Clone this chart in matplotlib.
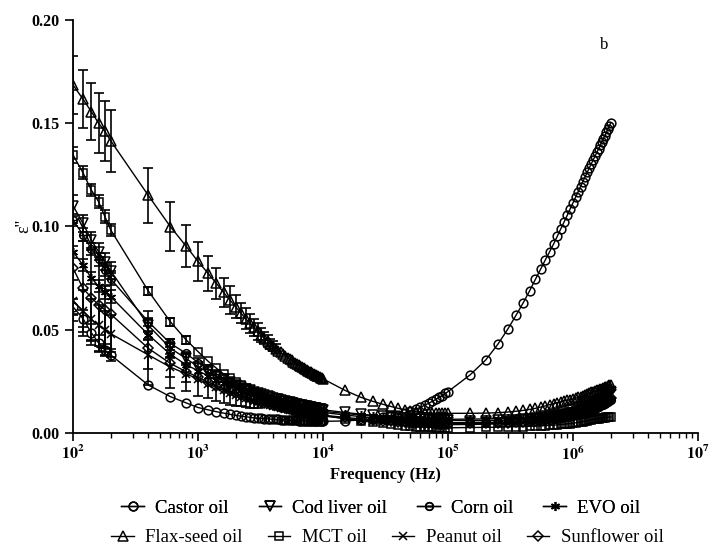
import math
import matplotlib
matplotlib.use("Agg")
import matplotlib.pyplot as plt
from matplotlib.path import Path
from matplotlib.ticker import FuncFormatter, LogLocator, NullFormatter, MultipleLocator

plt.rcParams['font.family'] = ['Liberation Serif', 'DejaVu Serif']
plt.rcParams['mathtext.fontset'] = 'stix'

# frequency sweep (Hz)
freq = [100, 120, 140, 160, 180, 200,
        400, 600, 800,
        1000, 1200, 1400, 1600, 1800, 2000, 2200, 2400, 2600, 2800, 3000, 3200, 3400, 3600, 3800, 4000,
        4200, 4400, 4600, 4800, 5000, 5200, 5400, 5600, 5800, 6000, 6200, 6400, 6600, 6800, 7000, 7200,
        7400, 7600, 7800, 8000, 8200, 8400, 8600, 8800, 9000, 9200, 9400, 9600, 9800, 10000,
        15000, 20000, 25000, 30000, 35000, 40000, 45000, 50000, 55000, 60000, 65000, 70000, 75000,
        80000, 85000, 90000, 95000, 100000,
        150000, 200000, 250000, 300000, 350000, 400000, 450000, 500000, 550000, 600000, 650000,
        700000, 750000, 800000, 850000, 900000, 950000, 1000000, 1050000, 1100000, 1150000, 1200000,
        1250000, 1300000, 1350000, 1400000, 1450000, 1500000, 1550000, 1600000, 1650000, 1700000,
        1750000, 1800000, 1850000, 1900000, 1950000, 2000000]

castor = [.0610, .0553, .0485, .0435, .0400, .0377,
          .0231, .0175, .0145,
          .0122, .0111, .0102, .0095, .0089, .0084, .0080, .0077, .0075, .0072, .0070, .0069, .0068, .0067,
          .0066, .0065, .0064, .0064, .0063, .0063, .0062, .0062, .0061, .0061, .0060, .0060, .0060, .0059,
          .0059, .0059, .0058, .0058, .0058, .0057, .0057, .0057, .0057, .0056, .0056, .0056, .0056, .0056,
          .0055, .0055, .0055, .0055,
          .0057, .0062, .0068, .0075, .0081, .0088, .0095, .0104, .0113, .0123, .0133, .0143, .0152, .0162,
          .0171, .0180, .0190, .0199,
          .0280, .0352, .0428, .0501, .0569, .0630, .0688, .0743, .0792, .0837, .0877, .0915, .0953, .0989,
          .1022, .1054, .1085, .1114, .1142, .1168, .1193, .1217, .1240, .1262, .1283, .1303, .1322, .1340,
          .1358, .1375, .1392, .1408, .1424, .1440, .1455, .1470, .1485, .1500]

cod_liver = [.1100, .1015, .0934, .0877, .0829, .0785,
             .0520, .0410, .0360,
             .0320, .0294, .0274, .0258, .0244, .0233, .0223, .0214, .0206, .0199, .0193, .0187, .0182, .0177,
             .0173, .0169, .0165, .0162, .0159, .0156, .0153, .0150, .0147, .0145, .0142, .0140, .0138, .0136,
             .0134, .0133, .0131, .0129, .0127, .0126, .0124, .0123, .0122, .0120, .0119, .0118, .0117, .0115,
             .0114, .0113, .0112, .0111,
             .0098, .0090, .0084, .0080, .0076, .0073, .0071, .0069, .0067, .0066, .0065, .0064, .0063, .0062,
             .0062, .0061, .0061, .0060,
             .0059, .0059, .0060, .0061, .0062, .0064, .0066, .0068, .0070, .0073, .0076, .0079, .0082, .0085,
             .0088, .0091, .0094, .0097, .0101, .0105, .0109, .0113, .0117, .0121, .0125, .0130, .0134, .0139,
             .0144, .0149, .0154, .0159, .0165, .0171, .0177, .0183, .0189, .0195]

corn = [.1030, .0960, .0890, .0840, .0790, .0745,
        .0538, .0433, .0385,
        .0340, .0308, .0284, .0264, .0248, .0234, .0222, .0212, .0203, .0195, .0188, .0181, .0175, .0170,
        .0165, .0161, .0157, .0153, .0149, .0146, .0142, .0139, .0137, .0134, .0132, .0129, .0127, .0125,
        .0123, .0121, .0119, .0117, .0115, .0114, .0112, .0111, .0109, .0108, .0106, .0105, .0104, .0103,
        .0101, .0100, .0099, .0098,
        .0086, .0078, .0072, .0067, .0063, .0060, .0058, .0056, .0054, .0053, .0052, .0051, .0050, .0050,
        .0049, .0049, .0049, .0049,
        .0049, .0050, .0050, .0051, .0052, .0054, .0055, .0057, .0059, .0061, .0063, .0066, .0068, .0071,
        .0074, .0077, .0080, .0083, .0086, .0089, .0092, .0095, .0098, .0102, .0105, .0109, .0112, .0116,
        .0120, .0124, .0128, .0132, .0136, .0140, .0145, .0149, .0154, .0158]

evo = [.0877, .0813, .0750, .0710, .0680, .0660,
       .0475, .0380, .0330,
       .0300, .0276, .0257, .0242, .0229, .0218, .0209, .0200, .0193, .0187, .0181, .0175, .0171, .0166,
       .0162, .0158, .0155, .0152, .0149, .0146, .0143, .0141, .0138, .0136, .0133, .0131, .0129, .0128,
       .0126, .0124, .0123, .0121, .0119, .0118, .0116, .0115, .0114, .0113, .0112, .0111, .0110, .0108,
       .0107, .0106, .0105, .0104,
       .0093, .0086, .0081, .0077, .0074, .0072, .0070, .0069, .0068, .0067, .0066, .0066, .0065, .0065,
       .0065, .0065, .0065, .0065,
       .0066, .0067, .0068, .0069, .0071, .0073, .0075, .0077, .0080, .0083, .0086, .0089, .0092, .0096,
       .0099, .0103, .0107, .0111, .0115, .0119, .0123, .0128, .0132, .0137, .0142, .0147, .0152, .0157,
       .0162, .0167, .0173, .0179, .0185, .0191, .0197, .0203, .0209, .0215]

flax = [.1685, .1617, .1556, .1500, .1460, .1415,
        .1150, .0999, .0905,
        .0830, .0773, .0724, .0680, .0643, .0610, .0580, .0553, .0530, .0510, .0491, .0474, .0458, .0444,
        .0431, .0419, .0408, .0398, .0389, .0380, .0372, .0364, .0357, .0350, .0344, .0338, .0332, .0327,
        .0322, .0317, .0312, .0308, .0304, .0300, .0296, .0292, .0289, .0285, .0282, .0279, .0276, .0273,
        .0270, .0267, .0264, .0261,
        .0205, .0172, .0152, .0138, .0127, .0118, .0111, .0106, .0102, .0099, .0097, .0096, .0095, .0094,
        .0094, .0094, .0094, .0094,
        .0094, .0095, .0097, .0100, .0104, .0108, .0113, .0118, .0124, .0130, .0136, .0141, .0146, .0150,
        .0154, .0157, .0160, .0163, .0167, .0171, .0175, .0179, .0183, .0187, .0191, .0195, .0198, .0202,
        .0205, .0208, .0211, .0214, .0217, .0220, .0223, .0226, .0229, .0231]

mct = [.1346, .1260, .1176, .1120, .1047, .0983,
       .0687, .0538, .0451,
       .0393, .0347, .0313, .0285, .0263, .0245, .0230, .0217, .0205, .0195, .0186, .0178, .0171, .0165,
       .0159, .0153, .0148, .0144, .0140, .0136, .0132, .0129, .0126, .0123, .0120, .0117, .0115, .0112,
       .0110, .0108, .0106, .0104, .0102, .0100, .0099, .0097, .0095, .0094, .0092, .0091, .0090, .0088,
       .0087, .0086, .0085, .0084,
       .0068, .0058, .0051, .0045, .0041, .0037, .0034, .0032, .0030, .0029, .0028, .0027, .0026, .0025,
       .0025, .0024, .0024, .0024,
       .0025, .0026, .0027, .0028, .0029, .0030, .0031, .0032, .0033, .0034, .0036, .0037, .0038, .0040,
       .0041, .0043, .0044, .0046, .0048, .0050, .0052, .0054, .0056, .0058, .0060, .0062, .0064, .0065,
       .0067, .0068, .0070, .0071, .0072, .0073, .0074, .0075, .0076, .0077]

peanut = [.0640, .0590, .0550, .0520, .0500, .0480,
          .0377, .0318, .0286,
          .0260, .0237, .0220, .0205, .0194, .0184, .0175, .0168, .0161, .0155, .0150, .0145, .0141, .0137,
          .0133, .0130, .0127, .0124, .0121, .0118, .0116, .0114, .0112, .0110, .0108, .0106, .0104, .0102,
          .0101, .0099, .0098, .0096, .0095, .0094, .0092, .0091, .0090, .0089, .0088, .0087, .0086, .0085,
          .0084, .0083, .0082, .0081,
          .0069, .0062, .0057, .0053, .0050, .0048, .0046, .0044, .0043, .0042, .0041, .0040, .0040, .0039,
          .0039, .0039, .0039, .0039,
          .0040, .0041, .0043, .0045, .0047, .0049, .0052, .0055, .0058, .0061, .0064, .0068, .0071, .0075,
          .0079, .0083, .0087, .0091, .0095, .0099, .0103, .0107, .0111, .0115, .0120, .0124, .0128, .0133,
          .0137, .0142, .0147, .0152, .0157, .0162, .0167, .0172, .0177, .0182]

sunflower = [.0797, .0700, .0655, .0620, .0595, .0575,
             .0409, .0336, .0296,
             .0270, .0246, .0228, .0213, .0201, .0191, .0182, .0174, .0167, .0161, .0156, .0151, .0146, .0142,
             .0138, .0135, .0132, .0129, .0126, .0123, .0121, .0118, .0116, .0114, .0112, .0110, .0108, .0107,
             .0105, .0104, .0102, .0101, .0099, .0098, .0097, .0095, .0094, .0093, .0092, .0091, .0090, .0089,
             .0088, .0087, .0086, .0085,
             .0074, .0067, .0062, .0058, .0055, .0053, .0051, .0049, .0048, .0047, .0046, .0045, .0045, .0044,
             .0044, .0044, .0044, .0044,
             .0045, .0046, .0047, .0049, .0051, .0053, .0055, .0057, .0060, .0062, .0065, .0068, .0071, .0074,
             .0077, .0080, .0083, .0087, .0090, .0094, .0097, .0101, .0104, .0108, .0112, .0116, .0120, .0124,
             .0128, .0132, .0137, .0141, .0146, .0150, .0155, .0160, .0165, .0170]

# standard deviations at the low-frequency end (first points of each series)
flax_err = [.014, .014, .014, .0145, .0145, .015, .0135, .012, .010,
            .0093, .0085, .0075, .007, .0068, .0056, .005, .005, .0045, .0042, .004,
            .0035, .003, .003, .0025, .0025, .002]
sunflower_err = [.022, .023, .023, .023, .022, .021, .018, .012, .0093,
                 .009, .008, .0075, .007, .0065, .006, .0055, .005, .0045, .004, .0035]
peanut_err = [.010, .010, .010, .010, .009, .009, .007, .005, .004]
mct_err = [.004, .003, .003, .003, .003, .003, .002, .002, .002]
cod_err = [.005, .004, .004, .004, .004, .004, .003, .003, .002]
evo_err = [.003, .003, .003, .003, .003, .003, .002, .002]
corn_err = [.003, .003, .003, .003, .003, .003, .002, .002]
castor_err = [.004, .004, .004, .004, .003, .003]

labels = ['Castor oil', 'Cod liver oil', 'Corn oil', 'EVO oil',
          'Flax-seed oil', 'MCT oil', 'Peanut oil', 'Sunflower oil']

ominus = Path.make_compound_path(Path.unit_circle(),
                                 Path([(-1, 0), (1, 0)], [Path.MOVETO, Path.LINETO]))

series = [
    (castor, castor_err, 'o', 6.3),
    (cod_liver, cod_err, 'v', 6.5),
    (corn, corn_err, ominus, 5.5),
    (evo, evo_err, (6, 2, 0), 6.5),
    (flax, flax_err, '^', 6.5),
    (mct, mct_err, 's', 6),
    (peanut, peanut_err, 'x', 5.5),
    (sunflower, sunflower_err, 'D', 5),
]

fig = plt.figure(figsize=(7.09, 5.46), dpi=100)
ax = fig.add_axes([0.103, 0.2075, 0.8815, 0.7559])

handles = []
for (vals, err, mk, ms), lab in zip(series, labels):
    assert len(vals) == len(freq), lab
    h, = ax.plot(freq, vals, color='black', lw=1.0, marker=mk, ms=ms,
                 mfc='none', mec='black', mew=1.1, label=lab)
    ax.errorbar(freq[:len(err)], vals[:len(err)], yerr=err, fmt='none',
                ecolor='black', elinewidth=1.2, capsize=3.3, capthick=1.2)
    handles.append(h)

ax.set_xscale('log')
ax.set_xlim(1e2, 1e7)
ax.set_ylim(0, 0.20)
ax.yaxis.set_major_locator(MultipleLocator(0.05))
ax.yaxis.set_major_formatter(FuncFormatter(lambda v, p: f'{v:.2f}'))
ax.xaxis.set_major_locator(LogLocator(base=10, numticks=10))
ax.xaxis.set_minor_locator(LogLocator(base=10, subs=range(2, 10), numticks=20))
ax.xaxis.set_minor_formatter(NullFormatter())
ax.xaxis.set_major_formatter(FuncFormatter(lambda v, p: r'$\mathbf{10^{%d}}$' % round(math.log10(v))))

for side in ['top', 'right']:
    ax.spines[side].set_visible(False)
for side in ['left', 'bottom']:
    ax.spines[side].set_linewidth(1.3)
ax.tick_params(which='major', direction='out', length=6, width=1.2)
ax.tick_params(which='minor', direction='out', length=3.5, width=1.0)
ax.tick_params(axis='y', labelsize=11.5)
ax.tick_params(axis='x', labelsize=11.5, pad=3)
for t in ax.get_yticklabels():
    t.set_fontweight('bold')

ax.set_xlabel('Frequency (Hz)', fontsize=12, fontweight='bold', labelpad=2)
ax.set_ylabel("ε''", fontsize=13)
ax.yaxis.set_label_coords(-0.066, 0.5)
ax.text(0.843, 0.93, 'b', transform=ax.transAxes, fontsize=12)

# two legend rows, each laid out on its own like the original
leg_kw = dict(loc='center left', ncol=4, frameon=False, fontsize=13.5,
              handlelength=1.2, handletextpad=0.6, borderpad=0.0)
leg1 = fig.legend(handles=handles[:4], labels=labels[:4], columnspacing=1.6,
                  bbox_to_anchor=(112 / 709, 0.0696), **leg_kw)
fig.add_artist(leg1)
fig.legend(handles=handles[4:], labels=labels[4:], columnspacing=1.35,
           bbox_to_anchor=(102 / 709, 0.0155), **leg_kw)

fig.savefig('out.png', dpi=100)
